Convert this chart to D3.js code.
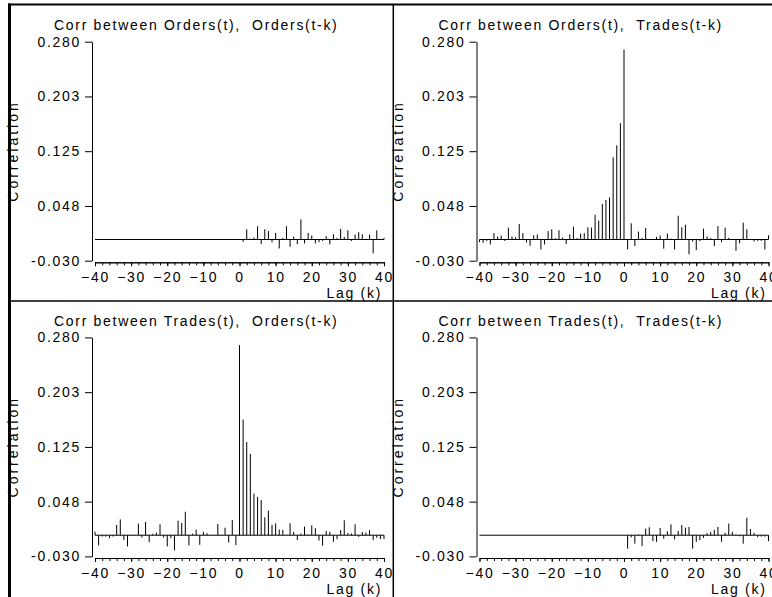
<!DOCTYPE html>
<html>
<head>
<meta charset="utf-8">
<script src="https://cdn.jsdelivr.net/npm/d3@7"></script>
<style>
body { margin: 0; background: #fff; }
text { font-family: "Liberation Sans", Arial, sans-serif; font-size: 14px; letter-spacing: 1.7px; fill: #000; }
</style>
</head>
<body>
<div id="chart"></div>
<script>
// lags -40..40
var lags = d3.range(-40, 41);

var yTicks = [-0.030, 0.0475, 0.125, 0.2025, 0.280];
var yTickLabels = ["-0.030", "0.048", "0.125", "0.203", "0.280"];
var xMajorTicks = [-40, -30, -20, -10, 0, 10, 20, 30, 40];
var xMinorTicks = d3.range(-40, 41, 2);

var titles = [
    "Corr between Orders(t),  Orders(t-k)",
    "Corr between Orders(t),  Trades(t-k)",
    "Corr between Trades(t),  Orders(t-k)",
    "Corr between Trades(t),  Trades(t-k)"
];

// Orders(t) vs Orders(t-k)
var ordOrd = [
    0, 0, 0, 0, 0, 0, 0, 0, 0, 0,
    0, 0, 0, 0, 0, 0, 0, 0, 0, 0,
    0, 0, 0, 0, 0, 0, 0, 0, 0, 0,
    0, 0, 0, 0, 0, 0, 0, 0, 0, 0,
    0,
    -0.0033, 0.0145, 0.001, 0.0028, 0.0187, -0.0065, 0.0145, 0.012, -0.004, 0.0094,
    -0.0126, 0.0023, 0.0187, -0.0103, 0.0042, -0.0065, 0.0285, -0.0056, 0.0094, 0.0056,
    -0.0056, -0.0037, -0.002, 0.0047, -0.007, 0.0075, 0.0023, 0.015, 0.0037, 0.013,
    -0.002, 0.007, 0.0103, 0.0075, 0.001, 0.007, -0.0196, 0.013, 0.001, 0.0023
];

// Orders(t) vs Trades(t-k)
var ordTrd = [
    -0.0037, -0.0047, -0.002, -0.007, 0.0089, 0.0042, 0.0056, -0.002, 0.0168, 0.0042,
    0.0033, 0.022, 0.0089, -0.0042, -0.0089, 0.006, 0.007, -0.014, -0.007, 0.012,
    0.0145, 0.002, 0.013, 0.0028, -0.0065, 0.007, 0.018, 0.002, 0.0084, 0.0089,
    0.0173, 0.0168, 0.035, 0.0267, 0.0505, 0.056, 0.0594, 0.1164, 0.1333, 0.1646,
    0.269,
    -0.014, 0.0229, -0.0093, 0.0112, 0.002, 0.0164, 0.0005, 0.001, 0.0037, 0.0056,
    -0.013, 0.0084, 0.0014, -0.014, 0.0337, 0.0173, 0.021, -0.021, -0.0028, -0.015,
    -0.0023, 0.0154, 0.0042, 0.002, -0.0093, 0.019, -0.0037, 0.0168, 0.0023, 0.0005,
    -0.0159, -0.0056, 0.0238, 0.0145, 0.0005, -0.0028, -0.002, -0.002, -0.014, 0.006
];

// Trades(t) vs Orders(t-k)
var trdOrd = [
    0.0051, -0.0145, -0.002, -0.002, -0.0042, -0.002, 0.0145, 0.0224, -0.0065, -0.0159,
    0.0005, 0.0005, 0.0164, -0.0033, 0.0187, -0.0098, 0.002, 0.0037, 0.0154, -0.0033,
    -0.0159, -0.0042, -0.0215, 0.0206, 0.0173, 0.0332, -0.0145, 0.002, 0.008, -0.0136,
    0.0047, 0.0028, 0.0005, 0.0005, 0.0159, -0.0005, 0.0107, -0.0103, 0.0215, -0.014,
    0.269,
    0.1636, 0.1318, 0.115, 0.0589, 0.0542, 0.0496, 0.0252, 0.0346, 0.0145, 0.0168,
    0.008, 0.0075, 0.0005, 0.0168, 0.0047, -0.007, 0.0023, 0.0122, 0.001, 0.014,
    0.01, -0.0075, -0.0148, 0.0058, 0.0047, -0.0094, -0.0056, 0.0072, 0.0212, 0.003,
    0.0023, 0.0155, -0.0023, 0.0045, 0.0037, 0.0072, -0.007, -0.0037, -0.0055, -0.0055
];

// Trades(t) vs Trades(t-k)
var trdTrd = [
    0, 0, 0, 0, 0, 0, 0, 0, 0, 0,
    0, 0, 0, 0, 0, 0, 0, 0, 0, 0,
    0, 0, 0, 0, 0, 0, 0, 0, 0, 0,
    0, 0, 0, 0, 0, 0, 0, 0, 0, 0,
    0,
    -0.019, -0.003, -0.012, 0.001, -0.0154, 0.0094, 0.0112, -0.0084, -0.0094, 0.0103,
    -0.005, 0.0056, 0.0154, -0.006, 0.006, 0.0145, 0.0107, 0.0117, -0.019, -0.0094,
    -0.007, -0.0037, 0.0028, 0.0047, 0.0075, 0.0117, -0.0094, 0.0033, 0.0164, 0.0047,
    0.001, -0.0014, -0.012, 0.0248, 0.0089, 0.0033, -0.0028, -0.002, -0.002, -0.0084
];

var width = 772, height = 597;
var colStep = 384.5, rowStep = 295.7;

var svg = d3.select("#chart").append("svg")
    .attr("width", width)
    .attr("height", height);

svg.append("rect")
    .attr("width", width).attr("height", height)
    .attr("fill", "#fff");

var xScale = d3.scaleLinear()
    .domain([-40, 40])
    .range([95, 384]);

var yScale = d3.scaleLinear()
    .domain([-0.030, 0.280])
    .range([260.7, 41.7]);

function drawPanel(values, title, col, row) {
    var g = svg.append("g")
        .attr("transform", "translate(" + (col * colStep) + "," + (row * rowStep) + ")");

    // title
    g.append("text")
        .attr("x", 54)
        .attr("y", 30)
        .attr("xml:space", "preserve")
        .style("white-space", "pre")
        .text(title);

    // y axis
    g.append("g")
        .attr("transform", "translate(92,0)")
        .call(d3.axisLeft(yScale)
            .tickValues(yTicks)
            .tickFormat(function(d, i) { return yTickLabels[i]; })
            .tickSize(7)
            .tickSizeOuter(0)
            .tickPadding(4));

    // x axis, minor ticks then major ticks with labels
    g.append("g")
        .attr("transform", "translate(0,262.3)")
        .call(d3.axisBottom(xScale)
            .tickValues(xMinorTicks)
            .tickFormat("")
            .tickSize(3)
            .tickSizeOuter(0));
    g.append("g")
        .attr("transform", "translate(0,262.3)")
        .call(d3.axisBottom(xScale)
            .tickValues(xMajorTicks)
            .tickSize(4)
            .tickSizeOuter(0)
            .tickPadding(6));

    g.selectAll(".domain, .tick line").attr("stroke", "#000");
    g.selectAll(".tick text")
        .style("font-family", "'Liberation Sans', Arial, sans-serif")
        .style("font-size", "14px");

    // axis labels
    g.append("text")
        .attr("x", 382)
        .attr("y", 298)
        .attr("text-anchor", "end")
        .text("Lag (k)");

    g.append("text")
        .attr("transform", "translate(18,151) rotate(-90)")
        .attr("text-anchor", "middle")
        .style("letter-spacing", "3px")
        .text("Correlation");

    // zero line
    g.append("line")
        .attr("x1", xScale(-40))
        .attr("x2", xScale(40))
        .attr("y1", yScale(0))
        .attr("y2", yScale(0))
        .attr("stroke", "#000");

    // spikes
    g.selectAll(".spike")
        .data(lags)
        .enter().append("line")
        .attr("class", "spike")
        .attr("x1", function(d) { return xScale(d); })
        .attr("x2", function(d) { return xScale(d); })
        .attr("y1", yScale(0))
        .attr("y2", function(d, i) { return yScale(values[i]); })
        .attr("stroke", "#000")
        .attr("stroke-width", 1);
}

drawPanel(ordOrd, titles[0], 0, 0);
drawPanel(ordTrd, titles[1], 1, 0);
drawPanel(trdOrd, titles[2], 0, 1);
drawPanel(trdTrd, titles[3], 1, 1);

// frame lines
svg.append("line").attr("x1", 8).attr("x2", width).attr("y1", 4.5).attr("y2", 4.5)
    .attr("stroke", "#000").attr("stroke-width", 2);
svg.append("line").attr("x1", 9.5).attr("x2", 9.5).attr("y1", 3.5).attr("y2", height)
    .attr("stroke", "#000").attr("stroke-width", 3);
svg.append("line").attr("x1", 393.3).attr("x2", 393.3).attr("y1", 4).attr("y2", height)
    .attr("stroke", "#000").attr("stroke-width", 1.5);
svg.append("line").attr("x1", 9).attr("x2", width).attr("y1", 301).attr("y2", 301)
    .attr("stroke", "#000").attr("stroke-width", 1.5);
</script>
</body>
</html>
